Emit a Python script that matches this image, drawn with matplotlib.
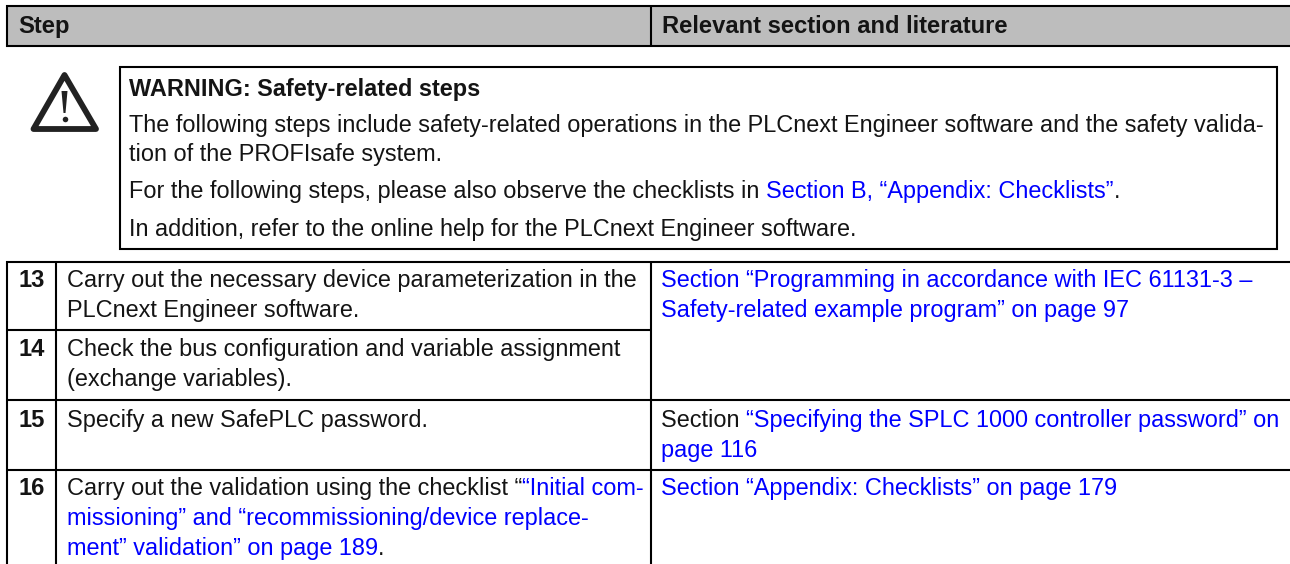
import matplotlib
matplotlib.use('Agg')
import matplotlib.pyplot as plt
from matplotlib.patches import Rectangle, Polygon

W, H = 1290, 564
BLUE = '#0000ff'
BLACK = '#141414'

header_labels = ['Step', 'Relevant section and literature']

warning_title = 'WARNING: Safety-related steps'
warning_lines = [
    [('The following steps include safety-related operations in the PLCnext Engineer software and the safety valida-', BLACK)],
    [('tion of the PROFIsafe system.', BLACK)],
    [('For the following steps, please also observe the checklists in ', BLACK), ('Section B, “Appendix: Checklists”', BLUE), ('.', BLACK)],
    [('In addition, refer to the online help for the PLCnext Engineer software.', BLACK)],
]

step_numbers = ['13', '14', '15', '16']
step_lines = [
    [[('Carry out the necessary device parameterization in the', BLACK)],
     [('PLCnext Engineer software.', BLACK)]],
    [[('Check the bus configuration and variable assignment', BLACK)],
     [('(exchange variables).', BLACK)]],
    [[('Specify a new SafePLC password.', BLACK)]],
    [[('Carry out the validation using the checklist “', BLACK), ('“Initial com-', BLUE)],
     [('missioning” and “recommissioning/device replace-', BLUE)],
     [('ment” validation” on page 189', BLUE), ('.', BLACK)]],
]
literature_lines = [
    [[('Section “Programming in accordance with IEC 61131-3 –', BLUE)],
     [('Safety-related example program” on page 97', BLUE)]],
    [[('Section ', BLACK), ('“Specifying the SPLC 1000 controller password” on', BLUE)],
     [('page 116', BLUE)]],
    [[('Section “Appendix: Checklists” on page 179', BLUE)]],
]

plt.rcParams['font.family'] = ['Liberation Sans', 'DejaVu Sans']
FS = 16.9
FS_BOLD = 17.1

fig = plt.figure(figsize=(W / 100, H / 100), dpi=100)
ax = fig.add_axes([0, 0, 1, 1])
ax.set_xlim(0, W)
ax.set_ylim(H, 0)
ax.axis('off')


def hline(y, x0, x1, lw=1.5):
    ax.plot([x0, x1], [y, y], color='black', lw=lw, solid_capstyle='butt')


def vline(x, y0, y1, lw=1.5):
    ax.plot([x, x], [y0, y1], color='black', lw=lw, solid_capstyle='butt')


def draw_runs(x, y, runs, **kw):
    # mixed colour line, each run starts where the last one stopped
    r = fig.canvas.get_renderer()
    for txt, col in runs:
        t = ax.text(x, y, txt, color=col, fontsize=FS, va='baseline', ha='left', **kw)
        x = ax.transData.inverted().transform(t.get_window_extent(r))[1][0]


# header
ax.add_patch(Rectangle((7, 6), W - 7, 40, fc='#bdbdbd', ec='none'))
hline(6, 6, W)
hline(46, 6, W)
vline(7, 5, 47)
vline(650.5, 6, 46)
ax.text(18, 33, header_labels[0], fontsize=FS_BOLD, fontweight='bold', color=BLACK)
ax.text(662, 33, header_labels[1], fontsize=FS_BOLD, fontweight='bold', color=BLACK)

# warning box
ax.add_patch(Rectangle((120, 67), 1157, 182, fc='white', ec='black', lw=1.5))
ax.text(129, 96, warning_title, fontsize=FS, fontweight='bold', color=BLACK)
for y, runs in zip([132, 161, 198, 236], warning_lines):
    draw_runs(129, y, runs)

# warning triangle
ax.add_patch(Polygon([[64.5, 75], [33.5, 129], [96, 129]], closed=True, fc='white', ec='#222222', lw=4.2, joinstyle='round'))
ax.add_patch(Polygon([[61.5, 91], [67.5, 91], [65.5, 113], [63.5, 113]], closed=True, fc='#222222', ec='none'))
ax.plot([64.5], [118.5], 'o', color='#222222', ms=4, mew=0)

# lower table
vline(7, 261, H)
vline(56, 262, H)
vline(650.5, 262, H)
hline(262, 6, W)
hline(330, 7, 650)
hline(400, 7, W)
hline(470, 7, W)

num_y = [287, 356, 427, 495]
for n, y in zip(step_numbers, num_y):
    ax.text(31.5, y, n, fontsize=FS_BOLD, fontweight='bold', color=BLACK, ha='center')

step_y = [[287, 317], [356, 386], [427], [495, 525, 555]]
for lines, ys in zip(step_lines, step_y):
    for runs, y in zip(lines, ys):
        draw_runs(67, y, runs)

lit_y = [[287, 317], [427, 457], [495]]
for lines, ys in zip(literature_lines, lit_y):
    for runs, y in zip(lines, ys):
        draw_runs(661, y, runs)

fig.savefig('out.png', dpi=100)
